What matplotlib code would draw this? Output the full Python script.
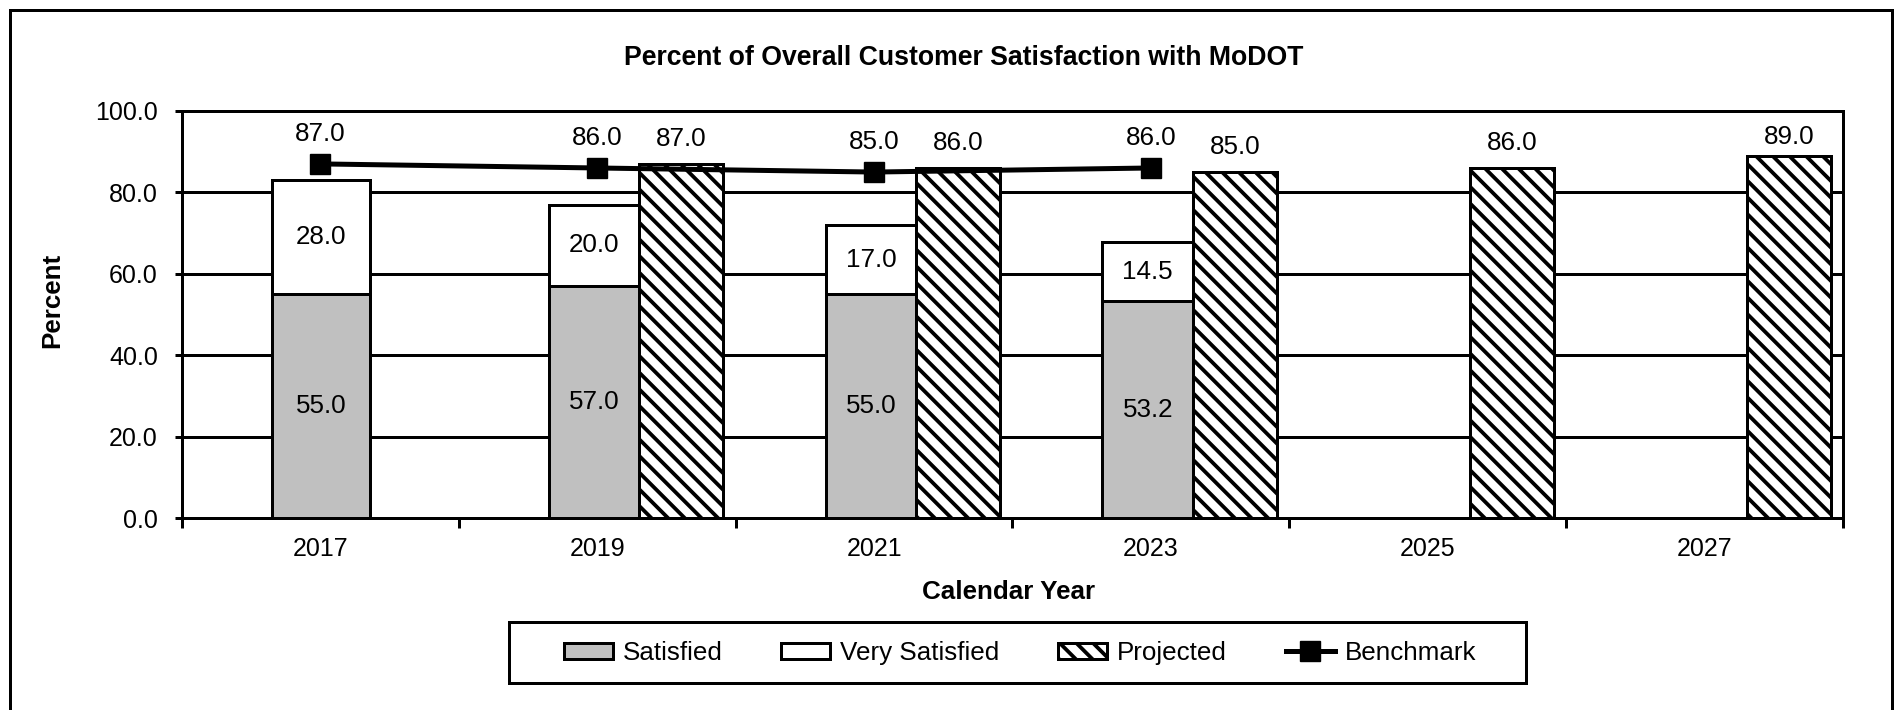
import numpy as np
import matplotlib
matplotlib.use('Agg')
import matplotlib.pyplot as plt
from matplotlib.patches import Patch, Rectangle
from matplotlib.lines import Line2D

# chart values
years = ['2017', '2019', '2021', '2023', '2025', '2027']
satisfied = [55.0, 57.0, 55.0, 53.2]           # 2017-2023
very_satisfied = [28.0, 20.0, 17.0, 14.5]      # 2017-2023
projected_years = ['2019', '2021', '2023', '2025', '2027']
projected = [87.0, 86.0, 85.0, 86.0, 89.0]
benchmark = [87.0, 86.0, 85.0, 86.0]           # 2017-2023

DPI = 100
W, H = 1902, 710


def pt(px):
    # pixels -> points at the output dpi
    return px * 72.0 / DPI


plt.rcParams['font.family'] = ['Liberation Sans', 'DejaVu Sans']
plt.rcParams['hatch.linewidth'] = pt(3.8)
plt.rcParams['hatch.color'] = 'black'

fig = plt.figure(figsize=(W / DPI, H / DPI), dpi=DPI)
ax = fig.add_axes([182 / W, 1 - 518 / H, (1843 - 182) / W, (518 - 111) / H])

fs = pt(26)
edge = pt(3)
hatch = '\\\\'

x = np.arange(len(years))
xs = x[:len(satisfied)]
xp = np.array([years.index(y) for y in projected_years])

stack_left = -0.175
stack_w = [0.355, 0.327, 0.327, 0.327]
proj_left = 0.152
proj_w = 0.304

ax.bar(xs + stack_left, satisfied, width=stack_w, align='edge',
       color='#c0c0c0', edgecolor='black', linewidth=edge, zorder=2)
ax.bar(xs + stack_left, very_satisfied, bottom=satisfied, width=stack_w,
       align='edge', color='white', edgecolor='black', linewidth=edge, zorder=2)
ax.bar(xp + proj_left, projected, width=proj_w, align='edge',
       facecolor='white', edgecolor='black', hatch=hatch, linewidth=edge, zorder=2)
ax.plot(xs, benchmark, color='black', lw=pt(5), marker='s', ms=pt(20),
        zorder=4)

# value labels
for i, (s, v) in enumerate(zip(satisfied, very_satisfied)):
    cx = xs[i] + stack_left + stack_w[i] / 2
    ax.text(cx, s / 2, f'{s:.1f}', ha='center', va='center', fontsize=fs, zorder=5)
    ax.text(cx, s + v / 2, f'{v:.1f}', ha='center', va='center', fontsize=fs, zorder=5)
for xi, p in zip(xp, projected):
    off = 25 if p < 88 else 19
    ax.annotate(f'{p:.1f}', (xi + proj_left + proj_w / 2, p), xytext=(0, pt(off)),
                textcoords='offset points', ha='center', va='center', fontsize=fs)
for xi, b in zip(xs, benchmark):
    ax.annotate(f'{b:.1f}', (xi, b), xytext=(0, pt(30)),
                textcoords='offset points', ha='center', va='center', fontsize=fs)

ax.set_xlim(-0.5, len(years) - 0.5)
ax.set_ylim(0, 100)
ax.set_yticks(np.arange(0, 101, 20))
ax.set_yticklabels([f'{v:.1f}' for v in np.arange(0, 101, 20)])
ax.set_xticks(x)
ax.set_xticklabels(years)
ax.set_xticks(np.arange(-0.5, len(years)), minor=True)
ax.tick_params(axis='x', which='major', length=0, pad=pt(19), labelsize=pt(25))
ax.tick_params(axis='x', which='minor', length=pt(10), width=edge, direction='out')
ax.tick_params(axis='y', length=pt(7), width=edge, direction='out', pad=pt(17),
               labelsize=pt(25))
ax.yaxis.grid(True, color='black', lw=edge)
ax.set_axisbelow(True)
for sp in ax.spines.values():
    sp.set_linewidth(edge)
    sp.set_color('black')

fig.text(964 / W, 1 - 58 / H, 'Percent of Overall Customer Satisfaction with MoDOT',
         ha='center', va='center', fontsize=pt(26.6), fontweight='bold')
fig.text(1009 / W, 1 - 592 / H, 'Calendar Year', ha='center', va='center',
         fontsize=fs, fontweight='bold')
fig.text(52 / W, 1 - 300 / H, 'Percent', rotation=90, ha='center', va='center',
         fontsize=fs, fontweight='bold')

handles = [
    Patch(facecolor='#c0c0c0', edgecolor='black', linewidth=edge),
    Patch(facecolor='white', edgecolor='black', linewidth=edge),
    Patch(facecolor='white', edgecolor='black', hatch=hatch, linewidth=edge),
    Line2D([], [], color='black', lw=pt(5), marker='s', ms=pt(20)),
]
fig.legend(handles, ['Satisfied', 'Very Satisfied', 'Projected', 'Benchmark'],
           loc='center', bbox_to_anchor=(1020 / W, 1 - 653 / H), ncol=4,
           frameon=False, fontsize=fs, handlelength=1.88, handleheight=0.58,
           handletextpad=0.38, columnspacing=2.27)
fig.patches.append(Rectangle((509 / W, 1 - 683 / H), 1017 / W, 61 / H,
                             transform=fig.transFigure, fill=False,
                             edgecolor='black', linewidth=edge))
# outer chart border
fig.patches.append(Rectangle((10 / W, -0.05), 1882 / W, 1 - 10 / H + 0.05,
                             transform=fig.transFigure, fill=False,
                             edgecolor='black', linewidth=edge))

fig.savefig('out.png', dpi=DPI)
